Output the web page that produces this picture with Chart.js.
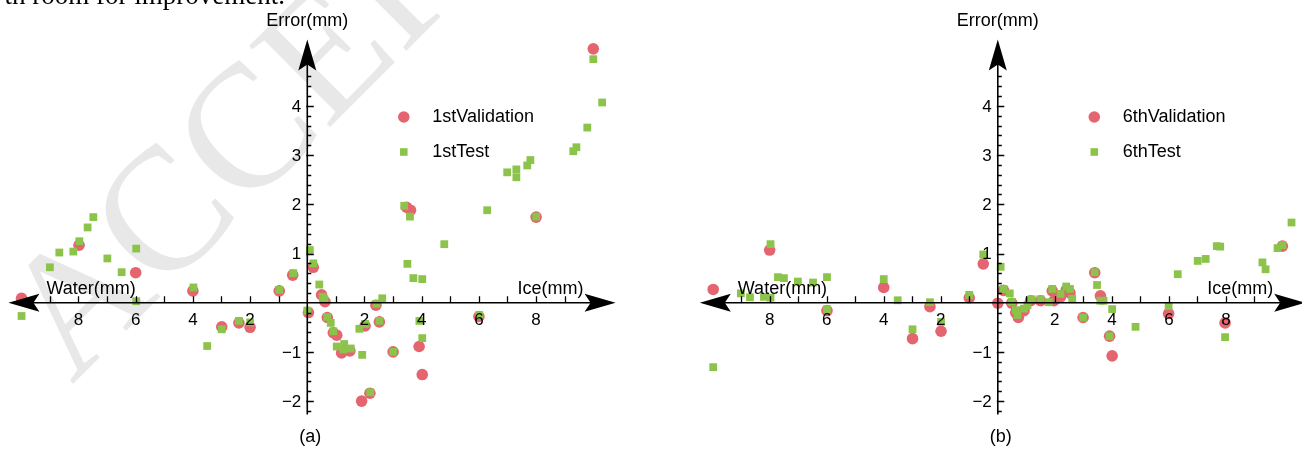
<!DOCTYPE html>
<html lang="en">
<head>
<meta charset="UTF-8">
<title>Error vs water / ice thickness</title>
<script src="https://cdn.jsdelivr.net/npm/chart.js"></script>
<style>
  body { margin: 0; background: #fff; }
  #wrap { position: relative; width: 1302px; height: 449px; overflow: hidden; background: #fff; }
  canvas { position: absolute; top: 0; }
  #chartA { left: 0; }
  #chartB { left: 651px; }
  .cut {
    position: absolute; top: -20px; right: 1017px;
    font-family: 'Liberation Serif', 'Times New Roman', serif;
    font-size: 27px; line-height: 31px; white-space: nowrap; color: #000;
  }
</style>
</head>
<body>
<div id="wrap">
  <canvas id="chartA" width="651" height="449"></canvas>
  <canvas id="chartB" width="660" height="449"></canvas>
  <div class="cut">th room for improvement.</div>
</div>
<script>
  // (a) 1st run -- negative x = water side, positive x = ice side
  const valAX = [-9.99, -7.98, -6.0, -4.0, -2.99, -2.39, -2.0, -0.98, -0.51, 0.21, 0.50, 0.62, 0.04, 0.70, 0.91, 1.03, 1.2, 1.49, 2.02, 1.90, 2.19, 2.40, 2.52, 3.0, 3.47, 3.61, 3.91, 4.02, 6.0, 8.0, 10.0];
  const valAY = [0.09, 1.17, 0.61, 0.24, -0.49, -0.41, -0.50, 0.24, 0.56, 0.72, 0.16, 0.02, -0.20, -0.30, -0.61, -0.66, -1.02, -0.98, -0.47, -2.0, -1.84, -0.05, -0.39, -1.0, 1.94, 1.88, -0.89, -1.46, -0.28, 1.74, 5.16];
  const testAX = [-9.99, -9.0, -8.67, -8.18, -7.97, -7.68, -7.48, -6.99, -6.49, -5.98, -5.98, -3.98, -3.5, -2.99, -2.39, -2.0, -0.98, -0.49, 0.09, 0.21, 0.42, 0.54, 0.60, 0.0, 0.70, 0.82, 0.91, 1.03, 1.26, 1.29, 1.52, 1.82, 2.02, 1.92, 2.2, 2.42, 2.62, 2.52, 3.0, 3.39, 3.59, 3.50, 3.71, 4.02, 3.92, 4.02, 4.79, 6.01, 6.29, 6.99, 7.31, 7.31, 7.69, 7.80, 8.0, 9.30, 9.41, 9.79, 10.0, 10.31];
  const testAY = [-0.27, 0.72, 1.02, 1.04, 1.25, 1.53, 1.74, 0.90, 0.62, 1.10, 0.03, 0.31, -0.88, -0.54, -0.37, -0.40, 0.26, 0.60, 1.07, 0.80, 0.37, 0.12, 0.07, -0.16, -0.29, -0.41, -0.58, -0.89, -0.95, -0.84, -0.93, -0.53, -0.43, -1.06, -1.82, -0.02, 0.09, -0.37, -1.0, 1.97, 1.75, 0.79, 0.50, 0.48, -0.37, -0.72, 1.19, -0.25, 1.88, 2.65, 2.71, 2.55, 2.79, 2.90, 1.75, 3.08, 3.16, 3.56, 4.95, 4.07];

  // (b) 6th run
  const valBX = [-9.98, -8.0, -5.99, -4.0, -2.99, -2.38, -1.99, -1.0, -0.51, 0.0, 0.2, 0.49, 0.63, 0.72, 0.92, 1.15, 1.50, 1.91, 1.97, 2.2, 2.4, 2.53, 2.99, 3.40, 3.60, 3.92, 4.01, 5.99, 7.97, 9.98];
  const valBY = [0.27, 1.07, -0.16, 0.31, -0.73, -0.08, -0.58, 0.10, 0.79, -0.01, 0.25, -0.01, -0.20, -0.30, -0.16, 0.04, 0.04, 0.24, 0.04, 0.12, 0.26, 0.20, -0.30, 0.61, 0.14, -0.68, -1.08, -0.22, -0.41, 1.15];
  const testBX = [-9.98, -9.01, -8.69, -8.20, -7.97, -7.97, -7.71, -7.50, -7.01, -6.48, -5.99, -5.99, -4.0, -3.51, -2.99, -2.38, -1.99, -1.0, -0.51, 0.10, 0.2, 0.42, 0.49, 0.63, 0.69, 0.92, 1.04, 1.19, 1.50, 1.79, 1.91, 2.2, 2.4, 2.53, 2.61, 2.99, 3.40, 3.48, 3.60, 3.71, 3.92, 4.01, 4.83, 5.99, 6.31, 7.01, 7.29, 7.68, 7.80, 7.97, 9.28, 9.39, 9.81, 9.98, 10.3];
  const testBY = [-1.31, 0.19, 0.11, 0.12, 0.10, 1.19, 0.52, 0.50, 0.43, 0.41, 0.52, -0.13, 0.48, 0.05, -0.54, 0.01, -0.39, 0.16, 0.98, 0.73, 0.28, 0.19, 0.02, -0.15, -0.25, -0.12, -0.05, 0.07, 0.07, 0.01, 0.28, 0.18, 0.33, 0.28, 0.08, -0.30, 0.62, 0.36, 0.04, 0.04, -0.68, -0.13, -0.49, -0.07, 0.58, 0.85, 0.89, 1.15, 1.14, -0.70, 0.82, 0.68, 1.11, 1.17, 1.63];

  const xLabelTicks = [-8, -6, -4, -2, 2, 4, 6, 8];
  const yLabelTicks = [-2, -1, 1, 2, 3, 4];

  const RED = '#e4646f';
  const GREEN = '#8cc34b';
  const FONT = "'Liberation Sans', Arial, sans-serif";

  const toPts = (xs, ys) => xs.map((x, i) => ({ x: x, y: ys[i] }));
  const fmt = v => (v < 0 ? '\u2212' : '') + Math.abs(v);

  function arrowHead(ctx, tx, ty, dx, dy) {
    const len = 31, half = 9, notch = 6;
    const px = -dy, py = dx;
    ctx.beginPath();
    ctx.moveTo(tx, ty);
    ctx.lineTo(tx - dx * len + px * half, ty - dy * len + py * half);
    ctx.lineTo(tx - dx * (len - notch), ty - dy * (len - notch));
    ctx.lineTo(tx - dx * len - px * half, ty - dy * len - py * half);
    ctx.closePath();
    ctx.fill();
  }

  // watermark of the source document, behind everything
  const watermark = {
    id: 'watermark',
    beforeDraw(chart, args, opts) {
      if (!opts.on) return;
      const ctx = chart.ctx;
      ctx.save();
      ctx.translate(72, 385);
      ctx.rotate(-45 * Math.PI / 180);
      ctx.font = "175px 'Liberation Serif', serif";
      ctx.fillStyle = '#e8e8e8';
      ctx.fillText('ACCEPTED MANUSCRIPT', 0, 0);
      ctx.restore();
    }
  };

  // Mathematica-style crossing axes with arrows, ticks, labels and legend
  const arrowAxes = {
    id: 'arrowAxes',
    afterDatasetsDraw(chart, args, opts) {
      const ctx = chart.ctx;
      const x = chart.scales.x, y = chart.scales.y;
      const ox = x.getPixelForValue(0), oy = y.getPixelForValue(0);
      const left = x.getPixelForValue(x.min), right = x.getPixelForValue(x.max);
      const top = y.getPixelForValue(y.max), bottom = y.getPixelForValue(y.min);
      ctx.save();
      ctx.strokeStyle = '#000';
      ctx.fillStyle = '#000';
      ctx.lineWidth = 1.6;
      ctx.beginPath();
      ctx.moveTo(left + 20, oy); ctx.lineTo(right - 20, oy);
      ctx.moveTo(ox, bottom); ctx.lineTo(ox, top + 20);
      ctx.stroke();
      arrowHead(ctx, left, oy, -1, 0);
      arrowHead(ctx, right, oy, 1, 0);
      arrowHead(ctx, ox, top, 0, -1);

      // x ticks every unit, pointing up
      ctx.lineWidth = 1.3;
      ctx.beginPath();
      for (let v = -9; v <= 9; v++) {
        if (v === 0) continue;
        const px = Math.round(x.getPixelForValue(v)) + 0.5;
        ctx.moveTo(px, oy); ctx.lineTo(px, oy - 6.5);
      }
      // y ticks: major each unit, minor each 0.2
      for (let i = -11; i <= 23; i++) {
        if (i === 0) continue;
        const py = Math.round(y.getPixelForValue(i * 0.2)) + 0.5;
        const major = i % 5 === 0;
        ctx.moveTo(ox - (major ? 1 : 0), py);
        ctx.lineTo(ox + (major ? 6.5 : 4), py);
      }
      ctx.stroke();

      ctx.font = '17px ' + FONT;
      ctx.textAlign = 'center';
      ctx.textBaseline = 'middle';
      xLabelTicks.forEach(v => ctx.fillText(String(Math.abs(v)), x.getPixelForValue(v), oy + 18));
      ctx.textAlign = 'right';
      yLabelTicks.forEach(v => ctx.fillText(fmt(v), ox - 6, y.getPixelForValue(v) + 1));

      ctx.font = '18px ' + FONT;
      ctx.textAlign = 'left';
      ctx.fillText('Water(mm)', left + 38, oy - 14);
      ctx.textAlign = 'right';
      ctx.fillText('Ice(mm)', right - 32, oy - 14);
      ctx.textAlign = 'center';
      ctx.fillText('Error(mm)', ox, 21);
      ctx.fillText(opts.tag, ox + 3, 437);

      // legend
      const lx = ox + 96.5;
      ctx.fillStyle = RED;
      ctx.beginPath(); ctx.arc(lx, 117, 5.8, 0, Math.PI * 2); ctx.fill();
      ctx.fillStyle = GREEN;
      ctx.fillRect(lx - 3.8, 152 - 3.8, 7.6, 7.6);
      ctx.fillStyle = '#000';
      ctx.textAlign = 'left';
      ctx.fillText(opts.names[0], ox + 125, 117);
      ctx.fillText(opts.names[1], ox + 125, 152);
      ctx.restore();
    }
  };

  function makeChart(id, val, test, pad, names, tag, mark) {
    return new Chart(document.getElementById(id), {
      type: 'scatter',
      data: {
        datasets: [
          { label: names[1], data: test, order: 0, pointStyle: 'rect', pointRadius: 5.5,
            backgroundColor: GREEN, borderWidth: 0, pointHoverRadius: 5.5 },
          { label: names[0], data: val, order: 1, pointStyle: 'circle', pointRadius: 5.8,
            backgroundColor: RED, borderWidth: 0, pointHoverRadius: 5.8 }
        ]
      },
      options: {
        responsive: false,
        animation: false,
        events: [],
        clip: false,
        layout: { padding: pad },
        scales: {
          x: { type: 'linear', min: -10.45, max: 10.78, display: false },
          y: { type: 'linear', min: -2.27, max: 5.35, display: false }
        },
        plugins: {
          legend: { display: false },
          tooltip: { enabled: false },
          watermark: { on: mark },
          arrowAxes: { names: names, tag: tag }
        }
      },
      plugins: [watermark, arrowAxes]
    });
  }

  makeChart('chartA', toPts(valAX, valAY), toPts(testAX, testAY),
    { left: 8.4, right: 35.4, top: 39.5, bottom: 34.6 },
    ['1stValidation', '1stTest'], '(a)', true);
  makeChart('chartB', toPts(valBX, valBY), toPts(testBX, testBY),
    { left: 48.8, right: 4, top: 39.5, bottom: 34.6 },
    ['6thValidation', '6thTest'], '(b)', false);
</script>
</body>
</html>
